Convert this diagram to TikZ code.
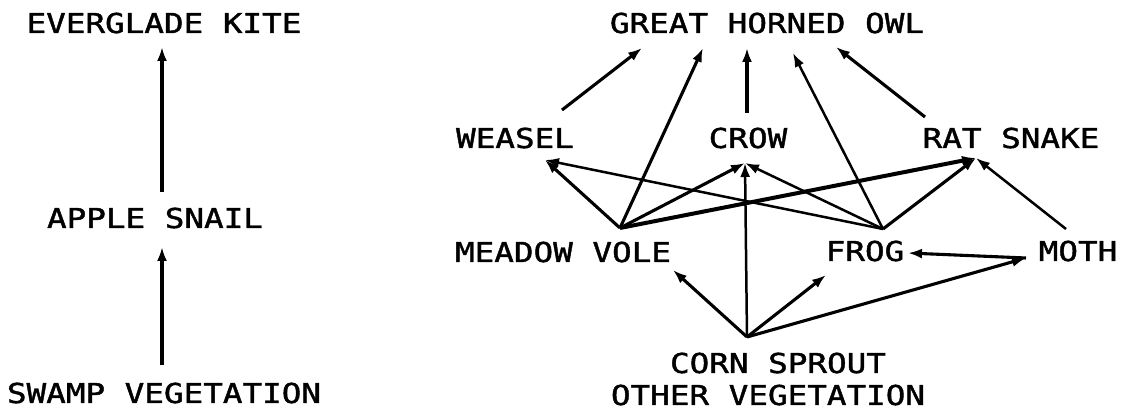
\documentclass[tikz,border=0pt]{standalone}
\usepackage{fontspec}
\newfontfamily\plotfont[FakeStretch=1.19,FakeBold=1.5]{DejaVu Sans Mono}
\usetikzlibrary{arrows.meta}
\begin{document}
\begin{tikzpicture}[x=1pt,y=-1pt,
  lbl/.style={inner sep=0pt,anchor=base,text depth=0pt,font=\plotfont\fontsize{27.4}{30}\selectfont},
  feed/.style={line width=3.1pt,-{Latex[length=14pt,width=10pt]}},
  thin feed/.style={feed,line width=2.5pt},
  thick feed/.style={feed,line width=4pt}]
\useasboundingbox (0,0) rectangle (1128,411);
% left chain
\node[lbl] (kite) at (164,33) {EVERGLADE KITE};
\node[lbl] (snail) at (155,228) {APPLE SNAIL};
\node[lbl] (swamp) at (164,403) {SWAMP VEGETATION};
\coordinate (kiteB) at (162,47);
\coordinate (snailT) at (162,192);
\coordinate (snailB) at (162,247);
\coordinate (swampT) at (162,365);
\draw[feed] (snailT) -- (kiteB);
\draw[feed] (swampT) -- (snailB);
% right web
\node[lbl] (owl) at (767,33) {GREAT HORNED OWL};
\node[lbl] (weasel) at (515,148) {WEASEL};
\node[lbl] (crow) at (748,148) {CROW};
\node[lbl] (snake) at (1011,148) {RAT SNAKE};
\node[lbl] (vole) at (563,262) {MEADOW VOLE};
\node[lbl] (frog) at (865,261) {FROG};
\node[lbl] (moth) at (1078,261) {MOTH};
\node[lbl] (corn) at (778,373) {CORN SPROUT};
\node[lbl] (other) at (768,405) {OTHER VEGETATION};
% attachment points
\coordinate (V) at (620,228);
\coordinate (F) at (883,229);
\coordinate (C) at (747,337);
\coordinate (M) at (1026,258);
\coordinate (MU) at (1066,229);
\coordinate (W0) at (562,110);
\coordinate (Cr0) at (747,113);
\coordinate (R0) at (925,117);
\coordinate (O1) at (642,48);
\coordinate (O2) at (703,48);
\coordinate (O3) at (747,48);
\coordinate (O4) at (793,53);
\coordinate (O5) at (836,47);
\coordinate (WT) at (545,160);
\coordinate (CT) at (745,163);
\coordinate (RT) at (976,158);
\coordinate (VT) at (673,270);
\coordinate (FT) at (826,275);
\coordinate (FM) at (908,253);
% to owl
\draw[feed] (W0) -- (O1);
\draw[feed] (V) -- (O2);
\draw[feed] (Cr0) -- (O3);
\draw[thin feed] (F) -- (O4);
\draw[feed] (R0) -- (O5);
% to weasel
\draw[feed] (V) -- (WT);
\draw[thin feed] (F) -- (WT);
% to crow
\draw[feed] (V) -- (CT);
\draw[thin feed] (C) -- (CT);
\draw[thin feed] (F) -- (CT);
% to rat snake
\draw[thick feed] (V) -- (RT);
\draw[feed] (F) -- (RT);
\draw[thin feed] (MU) -- (RT);
% from corn
\draw[feed] (C) -- (VT);
\draw[feed] (C) -- (FT);
\draw[feed] (C) -- (M);
\draw[feed] (M) -- (FM);
\end{tikzpicture}
\end{document}
